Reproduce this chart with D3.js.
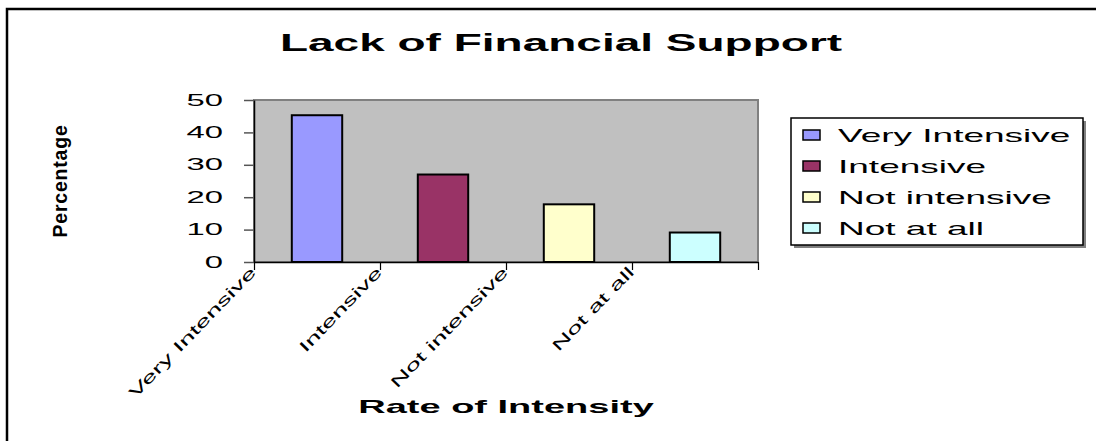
<!DOCTYPE html>
<html>
<head>
<meta charset="utf-8">
<script src="https://cdn.jsdelivr.net/npm/d3@7"></script>
<style>
	body { margin: 0; background: #fff; }
	svg { display: block; font-family: Arial, 'Liberation Sans', sans-serif; }
</style>
</head>
<body>
<div id="chart"></div>
<script>
let categories = ['Very Intensive', 'Intensive', 'Not intensive', 'Not at all']
let values = [45.3, 27, 17.8, 9.1]
let colors = ['#9999FF', '#993366', '#FFFFCC', '#CCFFFF']
let yTicks = [0, 10, 20, 30, 40, 50]

let W = 1096
let H = 441
// the picture is stretched sideways, so flat texts get widened
let stretch = 2

let plot = { left: 254, right: 758, top: 100, bottom: 262 }

let svg = d3
	.select('#chart')
	.append('svg:svg')
	.attr('width', W)
	.attr('height', H)

// chart area frame (runs past the right and bottom edge)
svg
	.append('svg:rect')
	.attr('x', 7)
	.attr('y', 9)
	.attr('width', W + 40)
	.attr('height', H + 40)
	.attr('fill', 'none')
	.attr('stroke', 'black')
	.attr('stroke-width', 2.5)

let x = d3
	.scaleBand()
	.domain(categories)
	.range([plot.left, plot.right])
	.paddingInner(0.6)
	.paddingOuter(0.3)

let xEdges = d3
	.scaleLinear()
	.domain([0, categories.length])
	.range([plot.left, plot.right])

let y = d3.scaleLinear().domain([0, 50]).range([plot.bottom, plot.top])

// plot area
svg
	.append('svg:rect')
	.attr('x', plot.left)
	.attr('y', plot.top)
	.attr('width', plot.right - plot.left)
	.attr('height', plot.bottom - plot.top)
	.attr('fill', '#C0C0C0')
	.attr('stroke', '#808080')
	.attr('stroke-width', 2)

svg
	.selectAll('.bar')
	.data(categories)
	.enter()
	.append('svg:rect')
	.attr('class', 'bar')
	.attr('x', d => x(d))
	.attr('y', (d, i) => y(values[i]))
	.attr('width', x.bandwidth())
	.attr('height', (d, i) => y(0) - y(values[i]))
	.attr('fill', (d, i) => colors[i])
	.attr('stroke', 'black')
	.attr('stroke-width', 2)

// y axis
let yAxis = svg
	.append('g')
	.attr('transform', `translate(${plot.left},0)`)
	.call(d3.axisLeft(y).tickValues(yTicks).tickSize(10).tickSizeOuter(0))

yAxis.select('.domain').attr('stroke', 'black').attr('stroke-width', 1.5)
yAxis.selectAll('line').attr('stroke', '#555').attr('stroke-width', 1.5)
yAxis
	.selectAll('text')
	.attr('x', 0)
	.attr('transform', `translate(-31,0) scale(${stretch + 0.05},1)`)
	.attr('font-size', 16)
	.attr('font-family', 'Arial, Liberation Sans, sans-serif')
	.attr('fill', 'black')

// x axis, ticks between the categories
let xAxis = svg
	.append('g')
	.attr('transform', `translate(0,${plot.bottom})`)
	.call(
		d3
			.axisBottom(xEdges)
			.tickValues(d3.range(categories.length + 1))
			.tickFormat('')
			.tickSize(8)
			.tickSizeOuter(0)
	)

xAxis.select('.domain').attr('stroke', 'black').attr('stroke-width', 1.5)
xAxis.selectAll('line').attr('stroke', 'black').attr('stroke-width', 1.2)

svg
	.selectAll('.xlabel')
	.data(categories)
	.enter()
	.append('svg:text')
	.attr('class', 'xlabel')
	.attr('transform', d => `translate(${x(d) + x.bandwidth() / 2 - 60},273) rotate(-46) scale(1.8,1)`)
	.attr('text-anchor', 'end')
	.attr('font-size', 15.5)
	.attr('fill', 'black')
	.text(d => d)

// titles
svg
	.append('svg:text')
	.attr('transform', `translate(561,51) scale(${stretch},1)`)
	.attr('text-anchor', 'middle')
	.attr('font-size', 23)
	.attr('font-weight', 'bold')
	.text('Lack of Financial Support')

svg
	.append('svg:text')
	.attr('transform', `translate(${(plot.left + plot.right) / 2},413) scale(${stretch},1)`)
	.attr('text-anchor', 'middle')
	.attr('font-size', 19)
	.attr('font-weight', 'bold')
	.text('Rate of Intensity')

svg
	.append('svg:text')
	.attr('transform', `translate(67,${(plot.top + plot.bottom) / 2}) rotate(-90)`)
	.attr('text-anchor', 'middle')
	.attr('font-size', 19.5)
	.attr('font-weight', 'bold')
	.attr('letter-spacing', 0.8)
	.text('Percentage')

// legend
let legend = { left: 791, top: 118, width: 292, height: 127, row: 31 }

svg
	.append('svg:rect')
	.attr('x', legend.left + 3)
	.attr('y', legend.top + 3)
	.attr('width', legend.width)
	.attr('height', legend.height)
	.attr('fill', '#808080')

svg
	.append('svg:rect')
	.attr('x', legend.left)
	.attr('y', legend.top)
	.attr('width', legend.width)
	.attr('height', legend.height)
	.attr('fill', 'white')
	.attr('stroke', 'black')
	.attr('stroke-width', 1.5)

for (let i = 0; i < categories.length; i++) {
	let cy = legend.top + 17 + i * legend.row
	svg
		.append('svg:rect')
		.attr('x', 803)
		.attr('y', cy - 5)
		.attr('width', 17)
		.attr('height', 10)
		.attr('fill', colors[i])
		.attr('stroke', 'black')
		.attr('stroke-width', 1.5)
	svg
		.append('svg:text')
		.attr('transform', `translate(838,${cy + 6.5}) scale(${stretch},1)`)
		.attr('font-size', 18.5)
		.attr('fill', 'black')
		.text(categories[i])
}
</script>
</body>
</html>
